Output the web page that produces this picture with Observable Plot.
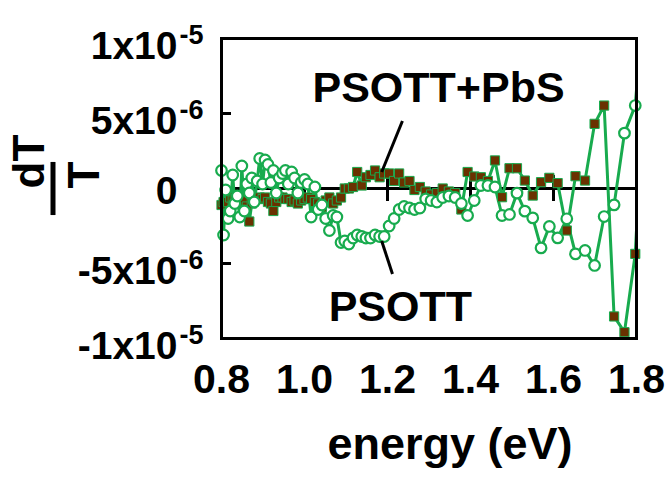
<!DOCTYPE html>
<html><head><meta charset="utf-8">
<script src="https://cdn.jsdelivr.net/npm/d3@7"></script>
<script src="https://cdn.jsdelivr.net/npm/@observablehq/plot@0.6"></script>
<style>html,body{margin:0;padding:0;background:#fff;} svg{display:block;}</style>
</head><body><div id="chart"></div>
<script>
// photon energy (eV) (10 nm wavelength steps)
const energy = [0.800,0.805,0.810,0.816,0.821,0.827,0.832,0.838,0.844,0.849,
  0.855,0.861,0.867,0.873,0.879,0.886,0.892,0.899,0.905,0.912,
  0.919,0.925,0.932,0.939,0.947,0.954,0.961,0.969,0.976,0.984,
  0.992,1.000,1.008,1.016,1.025,1.033,1.042,1.051,1.060,1.069,
  1.078,1.088,1.097,1.107,1.117,1.127,1.138,1.148,1.159,1.170,
  1.181,1.192,1.204,1.216,1.228,1.240,1.253,1.265,1.278,1.292,
  1.305,1.319,1.333,1.348,1.363,1.378,1.393,1.409,1.425,1.442,
  1.459,1.476,1.494,1.512,1.531,1.550,1.570,1.590,1.610,1.632,
  1.653,1.676,1.699,1.722,1.746,1.771,1.797,1.824];
// dT/T in units of 1e-6
const psottPbS = [-1.1,-0.9,-1.0,-0.9,-0.6,-0.8,-0.7,-1.0,-0.6,-0.9,
  -0.8,-1.2,-2.2,-1.0,-0.8,-0.7,-0.6,-0.7,-0.6,-0.9,
  -1.0,-1.5,-0.9,-0.6,-0.6,-0.7,-0.7,-0.9,-0.8,-1.0,
  -0.8,-0.7,-0.6,-0.7,-0.9,-1.0,-1.25,-0.8,-0.6,-1.0,
  -0.8,-0.6,0.0,0.0,0.1,1.1,0.2,0.75,0.9,1.2,
  0.75,1.0,1.0,0.5,1.0,0.4,0.5,-0.1,0.1,-0.2,
  -0.4,-0.3,0.0,-0.2,-0.3,-1.4,1.1,0.8,0.75,0.5,
  1.87,-0.58,1.35,1.35,0.53,-0.47,0.42,0.71,0.36,-2.8,
  0.82,0.53,4.31,5.53,-8.53,-9.58,-4.36,10.0];
const psott = [1.2,-3.1,-0.1,-2.0,-1.5,0.9,-1.0,-0.5,-1.9,1.5,
  -1.5,0.3,-0.3,0.7,-0.9,0.5,2.0,0.3,1.9,1.6,
  0.4,1.2,-0.3,0.7,1.0,1.2,0.3,1.1,0.7,-0.3,
  0.4,0.6,0.3,-1.9,0.1,-1.4,-1.1,-2.0,-2.8,-1.8,
  -1.9,-3.6,-3.5,-3.7,-3.3,-3.1,-3.2,-3.3,-3.3,-3.1,
  -3.2,-3.2,-2.5,-2.0,-1.4,-1.2,-1.3,-1.4,-1.3,-0.7,
  -0.8,-0.9,-0.6,-0.5,-0.6,-1.0,-1.8,-0.8,0.2,0.2,
  0.1,-1.8,-1.73,-0.31,-1.51,-1.96,-3.96,-2.53,-3.29,-2.02,
  -4.36,-4.13,-5.13,-1.87,-1.09,3.69,5.53,15.0];
const xTicks = [0.8, 1.0, 1.2, 1.4, 1.6, 1.8];
const xTickLabels = ["0.8", "1.0", "1.2", "1.4", "1.6", "1.8"];
const yTicks = [1e-5, 5e-6, 0, -5e-6, -1e-5];
const yTickBase = ["1x10", "5x10", "0", "-5x10", "-1x10"];
const yTickExp = ["-5", "-6", "", "-6", "-5"];
const seriesNames = ["PSOTT+PbS", "PSOTT"];
const labelEnergy = [1.323, 1.231];
const labelValue = [6.7e-6, -7.9e-6];
const leaderFrom = [[1.236, 4.5e-6], [1.186, -3.5e-6]];
const leaderTo = [[1.186, 1.1e-6], [1.212, -5.7e-6]];

const GREEN = "#18ab4e", BROWN = "#6a3100";
const FONT = "'Liberation Sans', Arial, Helvetica, sans-serif";

const pbsRows = energy.map((e, i) => ({energy: e, value: psottPbS[i] * 1e-6}));
const psRows = energy.map((e, i) => ({energy: e, value: psott[i] * 1e-6}));
const inDomain = d => d.energy <= 1.8;
const yRows = yTicks.map((v, i) => ({v, base: yTickBase[i], exp: yTickExp[i]}));
const labels = seriesNames.map((s, i) => ({s, x: labelEnergy[i], y: labelValue[i]}));
const leaders = leaderFrom.map((f, i) => ({x1: f[0], y1: f[1], x2: leaderTo[i][0], y2: leaderTo[i][1]}));

const chart = Plot.plot({
  width: 669, height: 485,
  marginLeft: 221, marginRight: 33, marginTop: 38, marginBottom: 147,
  x: {domain: [0.8, 1.8], axis: null},
  y: {domain: [-1e-5, 1e-5], axis: null},
  style: {fontFamily: FONT, background: "white", overflow: "visible"},
  marks: [
    Plot.ruleY([0], {stroke: "black", strokeWidth: 3}),
    Plot.tickX(xTicks, {x: d => d, stroke: "black", strokeWidth: 3, insetTop: 137, insetBottom: 137}),
    Plot.tickY(yTicks.filter(v => v !== 0 && Math.abs(v) < 1e-5), {y: d => d, stroke: "black", strokeWidth: 3, insetRight: 405}),
    Plot.line(pbsRows, {x: "energy", y: "value", stroke: GREEN, strokeWidth: 3, clip: true}),
    Plot.line(psRows, {x: "energy", y: "value", stroke: GREEN, strokeWidth: 3, clip: true}),
    Plot.dot(pbsRows.filter(inDomain), {x: "energy", y: "value", symbol: "square", r: 5.2, fill: BROWN, stroke: GREEN, strokeWidth: 1}),
    Plot.dot(psRows.filter(inDomain), {x: "energy", y: "value", r: 5.3, fill: "white", stroke: GREEN, strokeWidth: 2.2}),
    Plot.frame({stroke: "black", strokeWidth: 3}),
    Plot.link(leaders, {x1: "x1", y1: "y1", x2: "x2", y2: "y2", stroke: "black", strokeWidth: 3}),
    Plot.text(labels, {x: "x", y: "y", text: "s", fontSize: 43, fontWeight: "bold", fill: "black", textAnchor: "middle"}),
    // x tick labels
    Plot.text(xTicks, {x: d => d, frameAnchor: "bottom", text: (d, i) => xTickLabels[i], fontSize: 41, fontWeight: "bold", fill: "black", dy: 54}),
    // y tick labels: mantissa and exponent
    Plot.text(yRows.filter(d => d.exp !== ""), {y: "v", frameAnchor: "left", text: "base", fontSize: 39, fontWeight: "bold", fill: "black", textAnchor: "end", dx: -44, dy: 8}),
    Plot.text(yRows.filter(d => d.exp === ""), {y: "v", frameAnchor: "left", text: "base", fontSize: 39, fontWeight: "bold", fill: "black", textAnchor: "end", dx: -44, dy: 3}),
    Plot.text(yRows.filter(d => d.exp !== ""), {y: "v", frameAnchor: "left", text: "exp", fontSize: 27, fontWeight: "bold", fill: "black", textAnchor: "start", dx: -42, dy: -3}),
    // axis titles
    Plot.text(["energy (eV)"], {frameAnchor: "bottom", text: d => d, fontSize: 45, fontWeight: "bold", fill: "black", dx: 21, dy: 120}),
    Plot.text(["dT"], {frameAnchor: "left", text: d => d, rotate: -90, fontSize: 44, fontWeight: "bold", fill: "black", dx: -192}),
    Plot.text(["T"], {frameAnchor: "left", text: d => d, rotate: -90, fontSize: 44, fontWeight: "bold", fill: "black", dx: -137}),
    Plot.link([0], {x1: 0.8, x2: 0.8, y1: 1.77e-6, y2: -1.77e-6, dx: -168.5, stroke: "black", strokeWidth: 5})
  ]
});
document.getElementById("chart").appendChild(chart);
</script>
</body></html>
